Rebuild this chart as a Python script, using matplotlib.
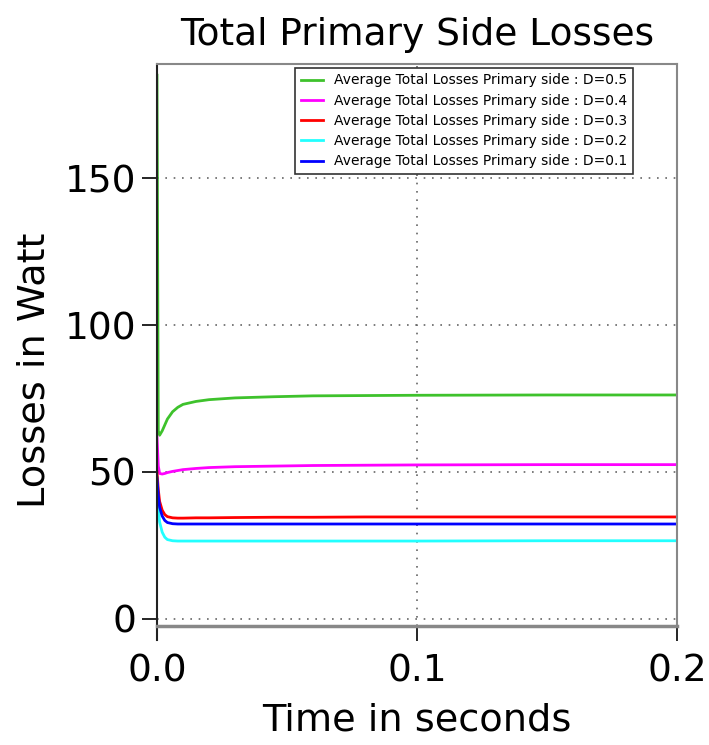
import matplotlib
matplotlib.use('Agg')
import matplotlib.pyplot as plt
import numpy as np

# time axis (s) and averaged primary-side losses (W) for each duty cycle
t = [0, 0.0005, 0.001, 0.002, 0.003, 0.004, 0.006, 0.008, 0.01, 0.015,
     0.02, 0.03, 0.045, 0.06, 0.08, 0.1, 0.15, 0.2]
loss_d05 = [185, 64, 62.5, 64, 66, 68, 70.5, 72, 73, 74,
            74.6, 75.2, 75.6, 75.9, 76.0, 76.1, 76.2, 76.2]
loss_d04 = [62, 52, 49.5, 49.3, 49.5, 49.8, 50.2, 50.5, 50.8, 51.2,
            51.5, 51.8, 52.0, 52.2, 52.3, 52.4, 52.5, 52.5]
loss_d03 = [50, 44, 40, 37, 35.5, 34.8, 34.4, 34.3, 34.3, 34.4,
            34.4, 34.5, 34.6, 34.6, 34.7, 34.7, 34.7, 34.7]
loss_d02 = [45, 38, 33, 29.5, 27.8, 27, 26.6, 26.5, 26.5, 26.5,
            26.5, 26.5, 26.5, 26.5, 26.5, 26.5, 26.6, 26.6]
loss_d01 = [48, 42, 38, 35, 33.5, 32.8, 32.4, 32.3, 32.3, 32.3,
            32.3, 32.3, 32.3, 32.3, 32.3, 32.3, 32.3, 32.3]

series = [(loss_d05, '#3ec22c', 'D=0.5'),
          (loss_d04, '#ff00ff', 'D=0.4'),
          (loss_d03, '#ff0000', 'D=0.3'),
          (loss_d02, '#22ffff', 'D=0.2'),
          (loss_d01, '#0000ff', 'D=0.1')]

fig = plt.figure(figsize=(7.09, 7.45), dpi=100)
ax = fig.add_axes([157/709, 1 - 626/745, 520/709, 562/745])

for vals, col, d in series:
    ax.plot(t, vals, color=col, lw=2,
            label='Average Total Losses Primary side : ' + d)

ax.set_xlim(0, 0.2)
ax.set_ylim(-2.4, 188.8)
ax.set_xticks([0.0, 0.1, 0.2])
ax.set_xticklabels(['0.0', '0.1', '0.2'])
ax.set_yticks([0, 50, 100, 150])
ax.tick_params(labelsize=27, length=11, width=1.2, direction='out', pad=4)
ax.tick_params(axis='x', pad=9)
ax.grid(True, ls=(0, (1, 4)), color='#666666', lw=1.2)

for s in ['top', 'right', 'bottom']:
    ax.spines[s].set_color('#888888')
    ax.spines[s].set_linewidth(1.5)
ax.spines['bottom'].set_linewidth(2.5)
ax.spines['left'].set_color('#222222')
ax.spines['left'].set_linewidth(1.5)
ax.spines['left'].set_bounds(-7, 188.8)

ax.set_title('Total Primary Side Losses', fontsize=27, pad=14)
ax.set_xlabel('Time in seconds', fontsize=27.5, labelpad=9)
ax.set_ylabel('Losses in Watt', fontsize=27.5)
ax.yaxis.set_label_coords(-0.2, 0.455)

leg = ax.legend(loc='upper right', bbox_to_anchor=(0.915, 0.993), fontsize=10,
                handlelength=1.6, fancybox=False, framealpha=1,
                edgecolor='#333333', borderaxespad=0, labelspacing=0.45)
leg.get_frame().set_linewidth(1.2)

fig.savefig('out.png', dpi=100)
